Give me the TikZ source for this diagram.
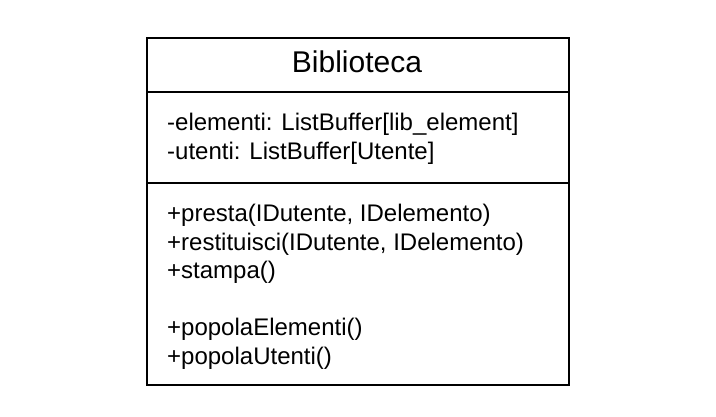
\documentclass[tikz,border=0pt]{standalone}
\usepackage{fontspec}
\setmainfont{Liberation Sans}
\begin{document}
\begin{tikzpicture}[x=1pt,y=-1pt,
  frame/.style={draw=black,line width=1.2pt},
  member/.style={anchor=base west,inner sep=0pt,font=\fontsize{24}{28}\selectfont},
  classname/.style={anchor=base,inner sep=0pt,font=\fontsize{30}{36}\selectfont}]
\useasboundingbox[fill=white] (0,0) rectangle (716,416);
% class box with its three compartments
\draw[frame] (147,38) rectangle (569,385);
\draw[frame] (147,92) -- (569,92);
\draw[frame] (147,183) -- (569,183);
% name
\node[classname] (name) at (357,72.5) {Biblioteca};
% attributes
\node[member] (a1) at (167,130.5) {-elementi: ListBuffer[lib\_element]};
\node[member] (a2) at (167,159.5) {-utenti: ListBuffer[Utente]};
% operations
\node[member] (m1) at (167,221.5) {+presta(IDutente, IDelemento)};
\node[member] (m2) at (167,250) {+restituisci(IDutente, IDelemento)};
\node[member] (m3) at (167,278.5) {+stampa()};
\node[member] (m4) at (167,335.5) {+popolaElementi()};
\node[member] (m5) at (167,364) {+popolaUtenti()};
\end{tikzpicture}
\end{document}
